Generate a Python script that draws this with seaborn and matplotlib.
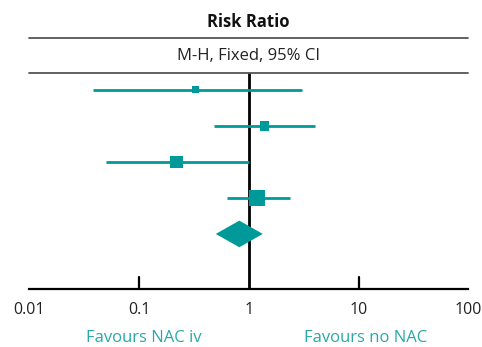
import matplotlib
matplotlib.use("Agg")
import matplotlib.pyplot as plt
from matplotlib.patches import Polygon
import seaborn as sns
import pandas as pd

# Study-level risk ratios with 95% CI and weights (%)
studies = ["Study 1", "Study 2", "Study 3", "Study 4"]
rr = [0.33, 1.39, 0.22, 1.19]
ci_low = [0.038, 0.48, 0.05, 0.63]
ci_high = [3.06, 4.02, 1.00, 2.38]
weights = [9, 16, 28, 47]

# Pooled estimate
pooled_rr = 0.82
pooled_low = 0.50
pooled_high = 1.34

tick_values = [0.01, 0.1, 1, 10, 100]
tick_labels = ["0.01", "0.1", "1", "10", "100"]
left_label = "Favours NAC iv"
right_label = "Favours no NAC"

sns.set_theme(style="white")
plt.rcParams["font.family"] = ["Open Sans", "DejaVu Sans"]

teal = "#009999"
label_teal = "#2aa8a8"

fig = plt.figure(figsize=(4.82, 3.47), dpi=100)
ax = fig.add_axes([0.0608, 0.1671, 0.9108, 0.6225])

df = pd.DataFrame({"study": studies, "rr": rr, "lo": ci_low, "hi": ci_high,
                   "w": weights, "row": range(len(studies))})

ax.hlines(df["row"], df["lo"], df["hi"], color=teal, lw=2, zorder=2)
sns.scatterplot(data=df, x="rr", y="row", size="w", sizes=(25, 132),
                size_norm=(min(weights), max(weights)), marker="s",
                color=teal, edgecolor="none", legend=False, ax=ax, zorder=3)

pooled_row = len(studies)
diamond = Polygon([(pooled_low, pooled_row), (pooled_rr, pooled_row - 0.37),
                   (pooled_high, pooled_row), (pooled_rr, pooled_row + 0.37)],
                  closed=True, facecolor=teal, edgecolor="none", zorder=3)
ax.add_patch(diamond)

ax.set_xscale("log")
ax.set_xlim(0.01, 100)
ax.set_ylim(5.53, -0.47)
ax.axvline(1, color="black", lw=2, zorder=1)

for side in ["top", "left", "right"]:
    ax.spines[side].set_visible(False)
ax.spines["bottom"].set_color("black")
ax.spines["bottom"].set_linewidth(1.6)

ax.set_yticks([])
ax.set_xticks(tick_values)
ax.set_xticklabels(tick_labels, fontsize=11.5, color="#222222")
ax.minorticks_off()
ax.tick_params(axis="x", direction="in", length=0, pad=9)
for v in [0.1, 10]:
    ax.plot([v, v], [5.53, 5.2], color="black", lw=1.6, clip_on=False, zorder=1)
ax.set_xlabel("")
ax.set_ylabel("")

# Header block
for yl in [1.16, 1.0]:
    ax.plot([0, 1], [yl, yl], transform=ax.transAxes, color="#555555",
            lw=1.3, clip_on=False)
ax.text(0.4995, 1.235, "Risk Ratio", transform=ax.transAxes, ha="center",
        va="center", fontsize=12, fontweight="bold", color="#111111")
ax.text(0.4995, 1.08, "M-H, Fixed, 95% CI", transform=ax.transAxes,
        ha="center", va="center", fontsize=12, color="#222222")

fig.text(144 / 482, 1 - 338 / 347, left_label, ha="center", va="center",
         fontsize=12, color=label_teal)
fig.text(366 / 482, 1 - 338 / 347, right_label, ha="center", va="center",
         fontsize=12, color=label_teal)

fig.savefig("out.png", dpi=100)
